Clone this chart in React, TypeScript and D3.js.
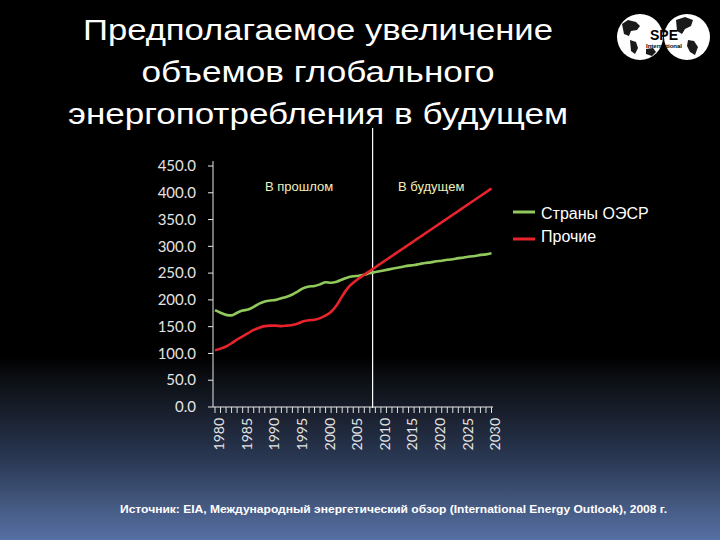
import React from "react";
import * as d3 from "d3";

const years: number[] = d3.range(1980, 2031);
const oecd: number[] = [
  181, 176, 172, 171, 176, 180, 182, 187, 193, 197,
  199, 200, 203, 206, 210, 216, 222, 225, 226, 229,
  233, 232, 234, 238, 242, 244, 245, 247, 250, 252,
  254, 256, 258, 260, 262, 264, 265, 267, 269, 270,
  272, 273, 275, 276, 278, 279, 281, 282, 284, 285, 287,
];
const others: number[] = [
  106, 109, 113, 119, 126, 132, 138, 144, 148, 151,
  152, 152, 151, 152, 153, 156, 160, 162, 163, 166,
  171, 178, 190, 207, 222, 232, 240, 247, 254, 261,
  268, 275, 282, 289, 296, 303, 310, 317, 324, 331,
  338, 345, 352, 359, 366, 373, 380, 387, 394, 401, 408,
];
const yTicks: number[] = [0, 50, 100, 150, 200, 250, 300, 350, 400, 450];
const xLabelYears: number[] = [1980, 1985, 1990, 1995, 2000, 2005, 2010, 2015, 2020, 2025, 2030];
const dividerYear = 2008.5;
const titleLines: string[] = [
  "Предполагаемое увеличение",
  "объемов глобального",
  "энергопотребления в будущем",
];
const seriesNames: string[] = ["Страны ОЭСР", "Прочие"];
const periodLabels: string[] = ["В прошлом", "В будущем"];
const sourceText =
  "Источник: EIA, Международный энергетический обзор (International Energy Outlook), 2008 г.";

const GREEN = "#92c95c";
const RED = "#e8232b";

export default function App() {
  const x = d3.scaleLinear().domain([1980, 2030]).range([215, 491.5]);
  const y = d3.scaleLinear().domain([0, 450]).range([407, 166]);
  const line = d3
    .line<number>()
    .x((_, i) => x(years[i]))
    .y((d) => y(d))
    .curve(d3.curveMonotoneX);

  const titleW = [470, 353, 500];
  const titleY = [40, 82, 124];

  return (
    <svg
      width={720}
      height={540}
      style={{ position: "absolute", left: 0, top: 0 }}
      fontFamily="'Liberation Sans', Arial, sans-serif"
    >
      <defs>
        <linearGradient id="bg" x1="0" y1="0" x2="0" y2="1">
          <stop offset="0" stopColor="#000000" />
          <stop offset="0.66" stopColor="#000000" />
          <stop offset="0.70" stopColor="#0b0e13" />
          <stop offset="0.78" stopColor="#1c2333" />
          <stop offset="0.86" stopColor="#2c3b58" />
          <stop offset="0.93" stopColor="#43577e" />
          <stop offset="1" stopColor="#5670a4" />
        </linearGradient>
        <clipPath id="globeL"><circle cx={640} cy={37} r={23} /></clipPath>
        <clipPath id="globeR"><circle cx={687} cy={37} r={23} /></clipPath>
      </defs>
      <rect x={0} y={0} width={720} height={540} fill="url(#bg)" />

      {/* Title */}
      {titleLines.map((t, i) => (
        <text
          key={t}
          x={318}
          y={titleY[i]}
          textAnchor="middle"
          fill="#ffffff"
          fontSize={30}
          textLength={titleW[i]}
          lengthAdjust="spacingAndGlyphs"
        >
          {t}
        </text>
      ))}

      {/* Logo */}
      <g>
        <circle cx={640} cy={37} r={23} fill="#ffffff" />
        <circle cx={687} cy={37} r={23} fill="#ffffff" />
        <g clipPath="url(#globeL)" fill="#1a1a1a">
          <path d="M622,24 l6,-4 l8,2 l4,4 l-3,4 l-6,1 l-2,5 l-5,-2 z" />
          <path d="M630,40 l6,2 l2,6 l-3,6 l-4,-3 z" />
          <path d="M646,49 l7,-1 l3,4 l-4,4 l-6,-2 z" />
        </g>
        <g clipPath="url(#globeR)" fill="#1a1a1a">
          <path d="M676,20 l9,-3 l8,3 l-2,6 l-6,3 l-3,5 l-5,-3 z" />
          <path d="M688,40 l6,1 l4,6 l-3,8 l-5,-3 l-3,-6 z" />
        </g>
        <text x={664} y={40} textAnchor="middle" fontSize={14} fontWeight="bold" fill="#000">SPE</text>
        <text x={664} y={48} textAnchor="middle" fontSize={6} fontWeight="bold" fill="#000">International</text>
      </g>

      {/* Axes */}
      <line x1={213} x2={213} y1={161} y2={407} stroke="#e8e8e8" strokeWidth={1} />
      <line x1={213} x2={493} y1={407} y2={407} stroke="#e8e8e8" strokeWidth={1} />
      {yTicks.map((t) => (
        <g key={t}>
          <line x1={208} x2={213} y1={y(t)} y2={y(t)} stroke="#e8e8e8" />
          <text
            x={196}
            y={y(t)}
            dy="0.35em"
            textAnchor="end"
            fill="#e4e4e4"
            fontSize={15}
            fontFamily="Lato, sans-serif"
          >
            {t.toFixed(1)}
          </text>
        </g>
      ))}
      {years.map((yr) => (
        <line key={yr} x1={x(yr)} x2={x(yr)} y1={407} y2={413} stroke="#e0e0e0" strokeWidth={1} />
      ))}
      {xLabelYears.map((yr) => (
        <text
          key={yr}
          transform={`translate(${x(yr) + 4},${418}) rotate(-90)`}
          textAnchor="end"
          dy="0.35em"
          fill="#e4e4e4"
          fontSize={14}
          fontFamily="Lato, sans-serif"
        >
          {yr}
        </text>
      ))}

      {/* Divider */}
      <line x1={x(dividerYear)} x2={x(dividerYear)} y1={128} y2={408} stroke="#ffffff" strokeWidth={1.2} />
      <text x={265} y={191} fill="#f0f0bc" fontSize={13}>{periodLabels[0]}</text>
      <text x={398} y={191} fill="#f0f0bc" fontSize={13}>{periodLabels[1]}</text>

      {/* Series */}
      <path d={line(oecd) || ""} fill="none" stroke={GREEN} strokeWidth={2.6} />
      <path d={line(others) || ""} fill="none" stroke={RED} strokeWidth={2.6} />

      {/* Legend */}
      <line x1={513} x2={535} y1={212} y2={212} stroke={GREEN} strokeWidth={3} />
      <text x={541} y={219} fill="#ffffff" fontSize={16}>{seriesNames[0]}</text>
      <line x1={513} x2={535} y1={239} y2={239} stroke={RED} strokeWidth={3} />
      <text x={541} y={242} fill="#ffffff" fontSize={16}>{seriesNames[1]}</text>

      {/* Source */}
      <text
        x={120}
        y={513}
        fill="#ffffff"
        fontSize={11}
        fontWeight="bold"
        textLength={547}
        lengthAdjust="spacingAndGlyphs"
      >
        {sourceText}
      </text>
    </svg>
  );
}
